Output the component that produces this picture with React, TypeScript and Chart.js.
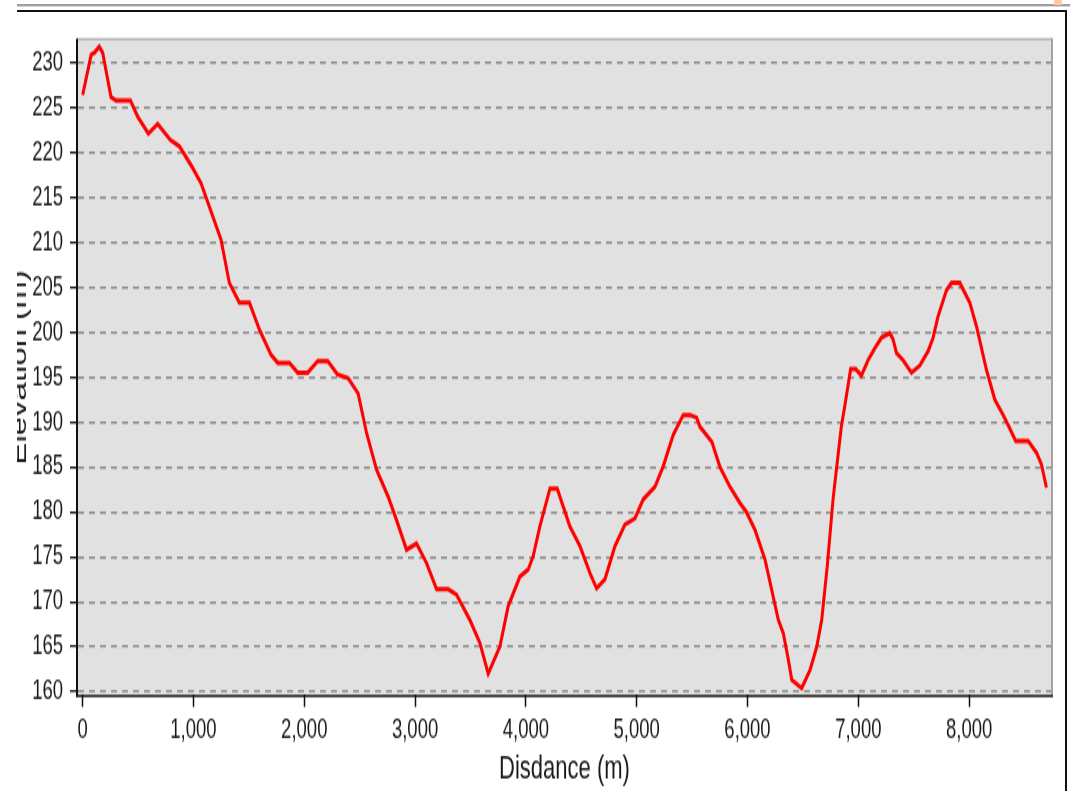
import { useEffect, useRef } from "react";
import { Chart, registerables } from "chart.js";

Chart.register(...registerables);

// Elevation profile
const distances = [
  0, 77, 106, 150, 181, 256, 301, 431, 497, 593, 677, 792, 873, 978, 1068, 1249,
  1324, 1414, 1505, 1595, 1700, 1761, 1866, 1941, 2031, 2122, 2212, 2300, 2395,
  2486, 2562, 2652, 2757, 2833, 2923, 3013, 3104, 3194, 3299, 3374, 3494, 3585,
  3660, 3765, 3840, 3946, 4021, 4066, 4126, 4217, 4283, 4397, 4488, 4578, 4638,
  4713, 4804, 4894, 4984, 5059, 5165, 5240, 5330, 5420, 5481, 5541, 5571, 5679,
  5752, 5842, 5932, 5990, 6068, 6158, 6278, 6323, 6368, 6400, 6489, 6564, 6625,
  6670, 6720, 6772, 6802, 6847, 6877, 6931, 6976, 7028, 7088, 7148, 7209, 7284,
  7314, 7344, 7404, 7480, 7555, 7630, 7675, 7720, 7796, 7841, 7916, 8006, 8066,
  8157, 8232, 8307, 8367, 8421, 8533, 8608, 8653, 8698,
];
const elevations = [
  226.4, 230.9, 231.1, 231.8, 231.1, 226.2, 225.8, 225.8, 224.0, 222.1, 223.2,
  221.4, 220.7, 218.6, 216.6, 210.3, 205.5, 203.3, 203.3, 200.3, 197.5, 196.6,
  196.6, 195.5, 195.5, 196.8, 196.8, 195.3, 194.9, 193.2, 188.8, 184.7, 181.7,
  179.1, 175.8, 176.5, 174.3, 171.4, 171.4, 170.8, 168.0, 165.4, 162.0, 165.0,
  169.5, 172.8, 173.6, 175.1, 178.4, 182.6, 182.6, 178.4, 176.2, 173.2, 171.5,
  172.5, 176.2, 178.6, 179.3, 181.4, 182.8, 185.1, 188.6, 190.8, 190.8, 190.5,
  189.5, 187.8, 185.0, 182.8, 181.0, 180.0, 178.0, 174.7, 168.0, 166.5, 163.6,
  161.3, 160.4, 162.4, 165.0, 168.0, 174.0, 181.4, 184.7, 189.5, 191.7, 195.9,
  195.9, 195.2, 196.9, 198.2, 199.4, 199.9, 199.2, 197.7, 196.9, 195.5, 196.3,
  197.9, 199.4, 201.8, 204.7, 205.5, 205.5, 203.3, 200.7, 195.8, 192.5, 190.8,
  189.3, 187.9, 187.9, 186.6, 185.3, 182.7,
];
const xTickValues = [0, 1000, 2000, 3000, 4000, 5000, 6000, 7000, 8000];
const yTickValues = [160, 165, 170, 175, 180, 185, 190, 195, 200, 205, 210, 215, 220, 225, 230];
const xAxisTitle = "Disdance (m)";
const yAxisTitle = "Elevation (m)";
const xRange = [-42, 8739];
const yRange = [159.63, 232.53];

const STRETCH = 1.5; // the reference is stretched vertically
const CANVAS_W = 1070;
const CANVAS_H = 528;
const FONT = "'Liberation Sans', Arial, sans-serif";

export default function App() {
  const ref = useRef<HTMLCanvasElement>(null);

  useEffect(() => {
    if (!ref.current) return;
    const framePlugin = {
      id: "frame",
      beforeDraw(chart: any) {
        const { ctx, chartArea } = chart;
        ctx.save();
        ctx.fillStyle = "#e1e1e1";
        ctx.fillRect(chartArea.left, chartArea.top, chartArea.right - chartArea.left, chartArea.bottom - chartArea.top);
        ctx.restore();
      },
      afterDraw(chart: any) {
        const { ctx, chartArea } = chart;
        const { left, right, top, bottom } = chartArea;
        ctx.save();
        ctx.lineCap = "butt";
        // top and right: grey
        ctx.strokeStyle = "#a3a3a3";
        ctx.lineWidth = 1.4;
        ctx.beginPath();
        ctx.moveTo(left - 1, top - 0.5);
        ctx.lineTo(right + 2, top - 0.5);
        ctx.stroke();
        ctx.lineWidth = 2;
        ctx.beginPath();
        ctx.moveTo(right + 1, top - 1);
        ctx.lineTo(right + 1, bottom);
        ctx.stroke();
        // left and bottom: black
        ctx.strokeStyle = "#111";
        ctx.lineWidth = 2;
        ctx.beginPath();
        ctx.moveTo(left - 1, top - 1);
        ctx.lineTo(left - 1, bottom + 1);
        ctx.stroke();
        ctx.lineWidth = 1.4;
        ctx.beginPath();
        ctx.moveTo(left - 2, bottom + 0.6);
        ctx.lineTo(right + 2, bottom + 0.6);
        ctx.stroke();
        ctx.restore();
      },
    };

    const chart = new Chart(ref.current, {
      type: "line",
      data: {
        datasets: [
          {
            data: distances.map((d, i) => ({ x: d, y: elevations[i] })),
            borderColor: "#ff0000",
            borderWidth: 3,
            pointRadius: 0,
            tension: 0,
            fill: false,
          },
        ],
      },
      options: {
        animation: false,
        responsive: false,
        events: [],
        layout: { padding: { left: 0, top: 26.67, right: 19, bottom: 0 } },
        plugins: { legend: { display: false }, tooltip: { enabled: false } },
        scales: {
          x: {
            type: "linear",
            min: xRange[0],
            max: xRange[1],
            afterBuildTicks: (scale: any) => {
              scale.ticks = xTickValues.map((value) => ({ value }));
            },
            afterFit: (scale: any) => {
              scale.height = CANVAS_H - 463.33;
            },
            grid: {
              display: true,
              drawOnChartArea: false,
              drawTicks: true,
              tickLength: 8,
              tickColor: "#111",
              tickWidth: 1.5,
            },
            border: { display: false },
            ticks: {
              autoSkip: false,
              maxRotation: 0,
              padding: 4,
              color: "#1a1a1a",
              font: { family: FONT, size: 18.5 },
              callback: (v: any) => Number(v).toLocaleString("en-US"),
            },
            title: {
              display: true,
              text: xAxisTitle,
              color: "#1a1a1a",
              font: { family: FONT, size: 22 },
              padding: { top: 0, bottom: 1.5 },
            },
          },
          y: {
            type: "linear",
            min: yRange[0],
            max: yRange[1],
            afterBuildTicks: (scale: any) => {
              scale.ticks = yTickValues.map((value) => ({ value }));
            },
            afterFit: (scale: any) => {
              scale.width = 78;
            },
            grid: {
              display: true,
              drawOnChartArea: true,
              drawTicks: true,
              color: "#8c8c8c",
              lineWidth: 1.4,
              tickLength: 8,
              tickColor: "#111",
              tickWidth: 1.33,
              tickBorderDash: [],
            },
            border: { display: false, dash: [6, 5] },
            ticks: {
              autoSkip: false,
              padding: 7,
              color: "#1a1a1a",
              font: { family: FONT, size: 18.5 },
              callback: (v: any) => String(v),
            },
            title: {
              display: true,
              text: yAxisTitle,
              color: "#1a1a1a",
              font: { family: FONT, size: 22 },
              padding: { top: 7, bottom: 0 },
            },
          },
        },
      },
      plugins: [framePlugin],
    } as any);
    return () => chart.destroy();
  }, []);

  return (
    <div
      style={{
        position: "fixed",
        left: 0,
        top: 0,
        width: 1070,
        height: 791,
        overflow: "hidden",
        background: "#ffffff",
      }}
    >
      <canvas
        ref={ref}
        width={CANVAS_W}
        height={CANVAS_H}
        style={{
          position: "absolute",
          left: 0,
          top: 0,
          width: CANVAS_W,
          height: CANVAS_H,
          transform: `scaleY(${STRETCH})`,
          transformOrigin: "0 0",
        }}
      />
      {/* window frame remnants of the original screenshot */}
      <div style={{ position: "absolute", left: 0, top: 0, width: 17, height: 791, background: "#ffffff" }} />
      <div style={{ position: "absolute", left: 17, top: 4, width: 1053, height: 2, background: "#a0a0a0" }} />
      <div style={{ position: "absolute", left: 17, top: 6, width: 1053, height: 1, background: "#d8d8d8" }} />
      <div style={{ position: "absolute", left: 17, top: 10, width: 1050, height: 2, background: "#111111" }} />
      <div style={{ position: "absolute", left: 1065, top: 10, width: 2, height: 781, background: "#111111" }} />
      <div style={{ position: "absolute", left: 1054, top: 0, width: 8, height: 5, background: "#ffc8a8" }} />
    </div>
  );
}
